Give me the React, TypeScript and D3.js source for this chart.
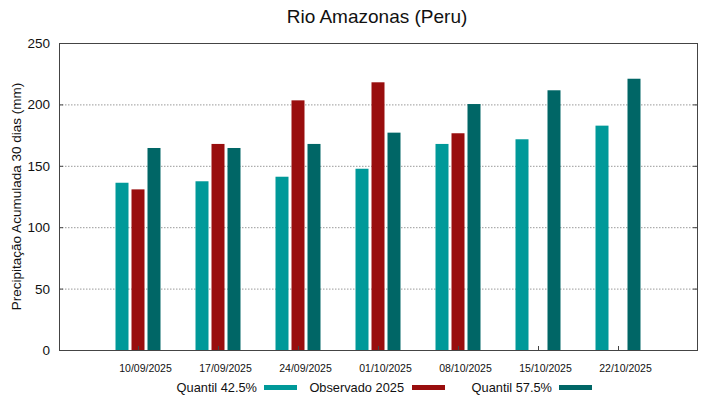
import * as d3 from 'd3';

const dates = ['10/09/2025', '17/09/2025', '24/09/2025', '01/10/2025', '08/10/2025', '15/10/2025', '22/10/2025'];
const q425 = [136.2, 137.4, 141.1, 147.6, 167.8, 171.6, 182.7];
const observado = [130.8, 167.8, 203.3, 218, 176.5, null, null];
const q575 = [164.5, 164.5, 167.8, 177, 200.3, 211.5, 220.9];
const yTicks = [0, 50, 100, 150, 200, 250];

const series = [
    { name: 'Quantil 42.5%', values: q425, color: '#009999', offset: -16 },
    { name: 'Observado 2025', values: observado, color: '#990e0e', offset: 0 },
    { name: 'Quantil 57.5%', values: q575, color: '#006666', offset: 16 },
];

export default function App() {
    const width = 719;
    const height = 399;
    const margin = { top: 43, right: 22, bottom: 49, left: 59 };
    const font = 'Liberation Sans, Arial, sans-serif';

    const x = d3.scaleLinear().domain([-1, dates.length]).range([58, 698]);
    const y = d3.scaleLinear().domain([0, 250]).range([height - margin.bottom, margin.top]);
    const barW = 13;
    const left = margin.left;
    const right = width - margin.right;

    // legend items: text right-aligned, swatch after
    const legend = [
        { textEnd: 257, sx: 264 },
        { textEnd: 404, sx: 412 },
        { textEnd: 552, sx: 559 },
    ];

    return (
        <svg
            width={width}
            height={height}
            style={{ position: 'absolute', left: 0, top: 0, background: '#fff' }}
            fontFamily={font}
        >
            <text x={377} y={23} textAnchor="middle" fontSize={19} fill="#111">
                Rio Amazonas (Peru)
            </text>

            {/* grid */}
            {yTicks.slice(1, -1).map((t) => (
                <line
                    key={t}
                    x1={left}
                    x2={right}
                    y1={y(t) + 0.5}
                    y2={y(t) + 0.5}
                    stroke="#999"
                    strokeDasharray="1.5,1.5"
                />
            ))}

            {/* bars */}
            {series.map((s) =>
                s.values.map((v, i) =>
                    v == null ? null : (
                        <rect
                            key={s.name + i}
                            x={x(i) + s.offset - barW / 2}
                            y={y(v)}
                            width={barW}
                            height={y(0) - y(v)}
                            fill={s.color}
                        />
                    ),
                ),
            )}

            {/* frame */}
            <rect x={left + 0.5} y={margin.top + 0.5} width={right - left} height={y(0) - margin.top} fill="none" stroke="#444" />

            {/* y ticks */}
            {yTicks.map((t) => (
                <g key={t}>
                    <line x1={left} x2={left + 4} y1={y(t) + 0.5} y2={y(t) + 0.5} stroke="#444" />
                    <line x1={right - 4} x2={right} y1={y(t) + 0.5} y2={y(t) + 0.5} stroke="#444" />
                    <text x={50} y={y(t) + 5} textAnchor="end" fontSize={13.5} fill="#111">
                        {t}
                    </text>
                </g>
            ))}

            {/* x ticks */}
            {dates.map((d, i) => (
                <g key={d}>
                    <line x1={x(i) + 0.5} x2={x(i) + 0.5} y1={y(0)} y2={y(0) - 4} stroke="#444" />
                    <text x={x(i) + 7.5} y={372} textAnchor="middle" fontSize={10.5} fill="#111">
                        {d}
                    </text>
                </g>
            ))}

            <text
                transform={`translate(21,${(margin.top + y(0)) / 2}) rotate(-90)`}
                textAnchor="middle"
                fontSize={13.5}
                fill="#111"
            >
                Precipitação Acumulada 30 dias (mm)
            </text>

            {/* legend */}
            {series.map((s, i) => (
                <g key={s.name}>
                    <text x={legend[i].textEnd} y={392} textAnchor="end" fontSize={12.8} fill="#111">
                        {s.name}
                    </text>
                    <rect x={legend[i].sx} y={385} width={33} height={5} fill={s.color} />
                </g>
            ))}
        </svg>
    );
}
